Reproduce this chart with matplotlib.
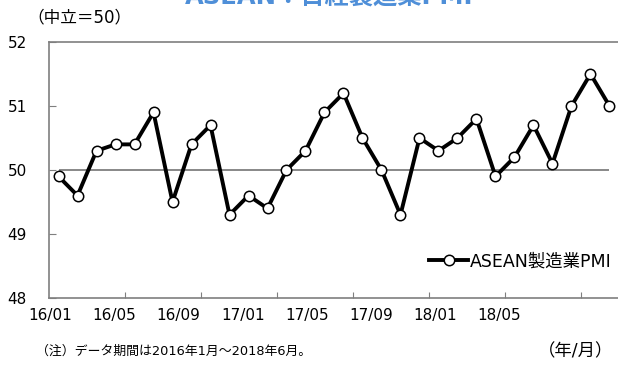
# ASEAN 製造業PMI の推移 (2016/01 - 2018/06)
import numpy as np
import matplotlib.pyplot as plt

plt.rcParams['font.family'] = ['DejaVu Sans', 'Noto Sans CJK JP']

# 月次データ
pmi = [49.9, 49.6, 50.3, 50.4, 50.4, 50.9, 49.5, 50.4, 50.7, 49.3,
       49.6, 49.4, 50.0, 50.3, 50.9, 51.2, 50.5, 50.0, 49.3, 50.5,
       50.3, 50.5, 50.8, 49.9, 50.2, 50.7, 50.1, 51.0, 51.5, 51.0]
neutral = 50
tick_labels = ['16/01', '16/05', '16/09', '17/01', '17/05', '17/09', '18/01', '18/05']
yticks = [48, 49, 50, 51, 52]

x = np.arange(len(pmi))

fig = plt.figure(figsize=(6.18, 3.66), dpi=100)
ax = fig.add_axes([0.0793, 0.1858, 0.9223, 0.6995])

# 中立線(50)
ax.hlines(neutral, x[0], x[-1], color='#7f7f7f', lw=1.3, zorder=1)

ax.plot(x, pmi, color='black', lw=2.8, marker='o', markersize=7.5,
        markerfacecolor='white', markeredgecolor='black', markeredgewidth=1.1,
        label='ASEAN製造業PMI', zorder=3)

ax.set_xlim(-0.5, len(pmi) - 0.5)
ax.set_ylim(48, 52)
ax.set_yticks(yticks)
ax.set_yticklabels([str(v) for v in yticks], fontsize=11)

# 目盛り線は4か月ごとの区切り、ラベルは別位置に配置
ax.set_xticks(np.arange(3.5, len(pmi) - 1, 4))
ax.set_xticklabels([])
ax.set_xticks(np.linspace(-0.44, 23.2, len(tick_labels)), minor=True)
ax.set_xticklabels(tick_labels, minor=True, fontsize=11)
ax.tick_params(axis='x', which='major', direction='in', length=4, color='#7f7f7f')
ax.tick_params(axis='x', which='minor', length=0, pad=7)
ax.tick_params(axis='y', direction='in', length=5, color='#7f7f7f', pad=16)

for side in ['left', 'top', 'bottom']:
    ax.spines[side].set_color('#7f7f7f')
    ax.spines[side].set_linewidth(1.2)
ax.spines['right'].set_visible(False)

ax.legend(loc='lower right', bbox_to_anchor=(1.0, 0.08), frameon=False,
          fontsize=12.5, handlelength=2.2, handletextpad=0.15, borderaxespad=0.0)

fig.text(0.532, 0.988, 'ASEAN：日経製造業PMI', ha='center', va='baseline',
         fontsize=17.5, fontweight='bold', color='#4f8fd8')
fig.text(0.045, 0.953, '（中立＝50）', ha='left', va='center', fontsize=12)
fig.text(0.058, 0.04, '（注）データ期間は2016年1月～2018年6月。', ha='left',
         va='center', fontsize=9.3)
fig.text(0.992, 0.04, '（年/月）', ha='right', va='center', fontsize=12.5)

fig.savefig('out.png', dpi=100)
